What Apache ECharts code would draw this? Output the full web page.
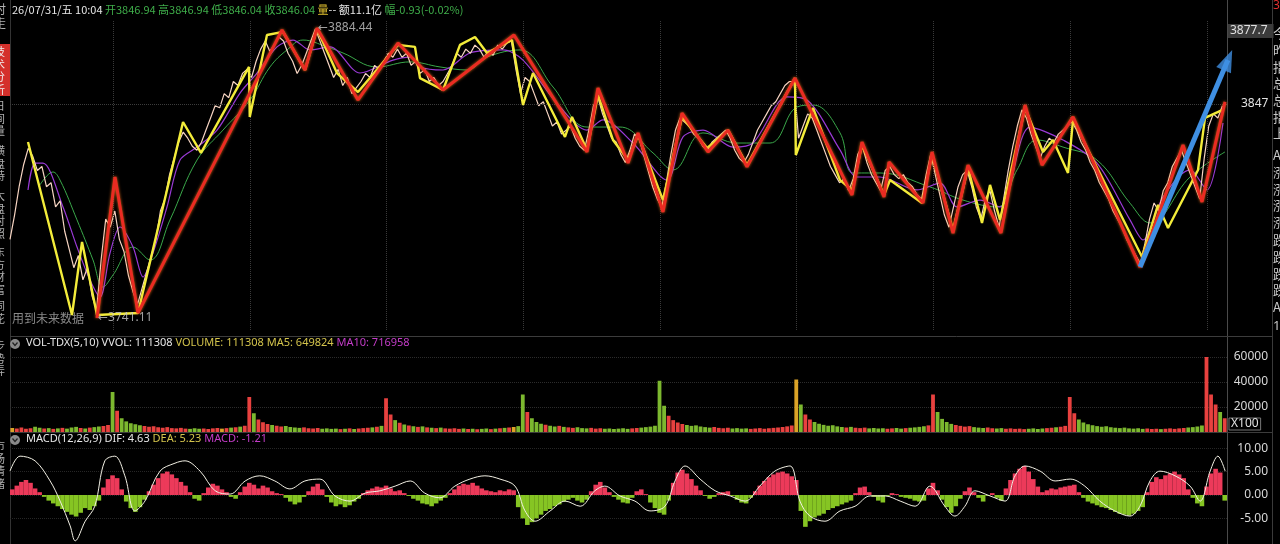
<!DOCTYPE html>
<html><head><meta charset="utf-8">
<script src="https://cdn.jsdelivr.net/npm/echarts@6/dist/echarts.min.js"></script>
<style>html,body{margin:0;padding:0;background:#000;overflow:hidden}#c{width:1280px;height:544px}</style>
</head><body><div id="c"></div>
<script>
// ---------- data (x = bar index, 0..267; one bar ≈ 8 minutes) ----------
const N = 267;
const dayBreaks = [22.6, 52.6, 82.6, 112.6, 142.6, 172.6, 202.6, 232.6, 262.6];

const close = [
3780,3792,3806,3817,3825,3821,3814,3816,3806,3808,
3796,3799,3784,3775,3766,3772,3760,3766,3752,3745,
3770,3790,3786,3794,3780,3774,3762,3754,3748,3756,
3764,3772,3780,3794,3800,3812,3820,3828,3833,3830,
3826,3824,3828,3834,3840,3846,3845,3852,3850,3858,
3856,3862,3864,3860,3868,3874,3878,3873,3876,3880,
3878,3872,3868,3862,3866,3872,3878,3884,3878,3872,
3866,3860,3864,3856,3860,3852,3855,3858,3862,3860,
3866,3864,3868,3872,3870,3874,3870,3872,3866,3868,
3862,3864,3858,3860,3856,3858,3862,3866,3872,3870,
3874,3872,3876,3874,3870,3873,3871,3876,3874,3877,
3878,3864,3852,3860,3858,3852,3846,3848,3842,3836,
3838,3832,3834,3836,3830,3826,3824,3834,3846,3850,
3842,3836,3830,3828,3822,3818,3824,3832,3830,3822,
3814,3806,3800,3796,3808,3822,3834,3840,3838,3836,
3832,3830,3826,3824,3828,3830,3832,3834,3830,3824,
3820,3818,3822,3828,3834,3838,3842,3846,3848,3852,
3856,3858,3858,3830,3836,3842,3840,3834,3828,3822,
3816,3812,3808,3810,3804,3810,3822,3826,3818,3812,
3808,3804,3814,3816,3812,3810,3812,3808,3806,3802,
3800,3812,3822,3812,3802,3792,3786,3796,3806,3812,
3814,3806,3796,3790,3800,3804,3794,3786,3800,3814,
3826,3836,3844,3840,3832,3826,3820,3826,3830,3828,
3832,3834,3836,3838,3834,3828,3824,3818,3814,3808,
3804,3800,3794,3790,3786,3780,3776,3772,3768,3778,
3790,3798,3794,3804,3808,3816,3820,3824,3818,3812,
3806,3800,3820,3836,3842,3840,3846];

const redZigzag = [
[19.09,3741.1],[23.04,3810.8],[28.08,3743.6],[59.68,3883.5],[64.72,3863.7],[67.35,3884.4],
[76.35,3848.9],[85.12,3877.0],[95.0,3853.8],[110.57,3881.0],[126.59,3823.2],[129.0,3854.8],
[135.59,3817.7],[137.78,3832.6],[143.26,3793.5],[147.43,3842.4],[153.14,3823.2],[157.53,3834.0],
[161.69,3815.8],[172.22,3859.7],[184.73,3801.9],[186.92,3828.1],[191.75,3800.9],[192.85,3818.2],
[200.31,3798.0],[202.28,3823.2],[206.89,3783.1],[210.18,3816.7],[217.42,3783.1],[222.69,3846.4],
[226.42,3816.7],[233.22,3840.5],[247.92,3766.3],[257.35,3826.6],[261.52,3798.5],[266.56,3847.9]];

const yellowZigzag = [
[3.95,3828.1],[13.6,3742.6],[15.8,3778.7],[19.09,3742.6],[28.08,3743.6],[37.96,3838.0],
[41.9,3822.7],[52.44,3865.2],[52.6,3840.5],[56.38,3881.0],[59.89,3882.5],[64.72,3863.7],
[67.35,3884.0],[71.74,3862.2],[76.35,3852.8],[85.12,3876.1],[88.85,3875.1],[89.95,3859.7],
[95.0,3853.8],[98.73,3876.1],[102.02,3880.0],[104.65,3872.1],[110.14,3878.5],[112.55,3846.4],
[114.74,3862.2],[121.76,3830.6],[123.3,3840.5],[126.59,3824.2],[129.0,3851.3],[132.29,3829.1],
[135.59,3819.2],[137.78,3831.6],[143.26,3799.4],[147.43,3840.5],[152.92,3825.1],[157.53,3834.0],
[161.69,3816.7],[172.22,3859.7],[172.4,3821.7],[176.18,3844.9],[182.1,3809.3],[184.73,3804.4],
[186.92,3826.6],[191.75,3801.9],[193.07,3809.3],[200.09,3798.0],[202.28,3821.7],[206.89,3784.6],
[210.18,3815.3],[213.25,3788.1],[215.01,3806.9],[217.2,3789.6],[222.69,3844.9],[226.63,3823.2],
[228.83,3829.1],[232.12,3812.8],[233.22,3839.0],[248.36,3771.3],[251.86,3797.0],[254.06,3785.6],
[260.64,3814.3],[262.18,3840.0],[265.91,3843.9]];

const maPurple = [
[3.95,3804.4],[5.48,3817.7],[7.24,3817.7],[11.63,3796.0],[14.7,3776.2],[17.55,3759.9],[19.75,3751.5],
[21.94,3773.2],[24.13,3786.1],[26.99,3776.2],[29.18,3761.4],[31.37,3773.2],[34.44,3796.0],[37.3,3819.2],
[41.03,3825.6],[45.42,3834.0],[50.46,3852.3],[54.19,3862.2],[58.58,3875.1],[62.09,3878.5],[65.82,3873.6],
[70.21,3875.1],[76.79,3862.2],[84.03,3868.6],[87.76,3870.1],[89.95,3865.2],[95.0,3863.7],[100.92,3872.1],
[108.16,3873.6],[112.55,3868.6],[120.67,3845.4],[126.59,3834.0],[130.1,3839.0],[136.68,3827.6],
[144.14,3809.3],[147.65,3830.6],[152.04,3834.0],[158.62,3825.6],[163.01,3827.6],[170.47,3850.4],
[174.86,3848.9],[182.1,3824.2],[185.83,3810.8],[190.87,3810.8],[198.99,3804.4],[204.04,3807.8],
[207.77,3796.0],[212.81,3799.4],[217.2,3796.0],[223.78,3835.5],[231.02,3829.1],[238.48,3817.7],
[245.72,3789.6],[248.57,3779.7],[252.96,3800.9],[258.88,3814.3],[262.61,3804.4],[266.12,3837.5]];

const maGreen = [
[6.58,3806.9],[9.43,3813.3],[10.97,3809.3],[14.7,3789.6],[18.21,3769.8],[20.4,3756.4],[22.6,3762.4],
[26.99,3776.2],[30.72,3769.8],[35.1,3789.6],[41.03,3819.2],[46.73,3834.0],[52.66,3848.9],[57.04,3865.2],
[60.77,3873.6],[64.28,3878.5],[69.55,3875.1],[73.06,3872.1],[80.52,3865.2],[87.76,3867.7],[94.34,3865.2],
[100.26,3863.7],[104.65,3870.1],[111.89,3873.6],[119.13,3855.3],[126.59,3835.5],[133.83,3835.5],
[141.07,3822.7],[145.46,3814.3],[152.04,3832.6],[159.5,3827.6],[166.74,3827.6],[172.66,3845.4],
[176.17,3846.4],[182.1,3832.6],[184.95,3812.8],[190.87,3812.8],[201.84,3805.9],[209.08,3799.4],
[216.54,3796.0],[220.93,3814.3],[225.32,3829.1],[231.02,3825.6],[238.48,3819.2],[245.72,3797.9],
[250.11,3788.1],[258.88,3810.8],[266.56,3823.2]];

const trendArrow = [[247.92,3766.3],[267.2,3868.6]];
const extremes = [[67.35,3884.44,'3884.44'],[19.09,3741.11,'3741.11']];

const volume = [
3200,2800,3600,2600,3000,4200,3400,2800,3100,2500,2900,3300,2700,3600,4100,3200,2800,3500,3900,4400,4800,5600,
32000,17000,11000,8500,7000,6200,5400,4800,4200,4600,3800,3400,3900,3100,2900,3300,2700,2500,3000,2600,2800,2400,2900,3200,2700,3100,3500,3800,4300,5000,
28000,15000,10000,7800,6400,5600,5000,4400,4800,4000,3600,3300,3700,3000,2800,3200,2600,2900,2500,2700,2300,2600,2900,2400,2800,3100,3400,3700,4200,4900,
27000,14000,9500,7400,6000,5200,4600,4100,4500,3700,3400,3100,3500,2900,2700,3000,2500,2800,2400,2600,2200,2500,2800,2300,2700,3000,3300,3600,4000,4700,
30000,16000,11000,8000,6600,5800,5000,4400,4900,4100,3700,3300,3800,3100,2900,3300,2700,3000,2600,2800,2400,2700,3000,2500,2900,3200,3500,3900,4300,5000,
41000,21000,13000,9500,7600,6400,5600,4900,5300,4400,3900,3500,4000,3300,3000,3400,2800,3100,2700,2900,2500,2800,3100,2600,3000,3300,3600,4000,4500,5200,
42000,22000,14000,10000,8000,6600,5700,5000,5400,4500,4000,3600,4100,3400,3100,3500,2900,3200,2800,3000,2600,2900,3200,2700,3100,3400,3700,4100,4600,5300,
30000,16000,10500,8000,6500,5600,4900,4300,4700,3900,3500,3200,3600,3000,2800,3100,2600,2900,2500,2700,2300,2600,2900,2400,2800,3100,3400,3800,4200,4900,
28000,15000,10000,7600,6200,5400,4700,4200,4600,3800,3400,3100,3500,2900,2700,3000,2500,2800,2400,2600,2300,2600,2900,2500,2900,3200,3600,3900,4400,5200,
60000,30000,22000,16000,11000];
const volTicks = [20000, 40000, 60000];

const macdHist = [
1.2,2.0,2.8,3.2,2.6,1.4,0.6,-0.4,-1.2,-1.8,
-2.4,-3.0,-3.6,-4.2,-4.6,-3.8,-2.8,-3.2,-2.4,-1.2,
1.6,3.4,4.2,3.6,1.2,-1.4,-2.8,-3.6,-2.6,-1.0,
0.8,2.2,3.6,4.6,5.0,4.4,3.6,2.8,2.0,0.6,
-0.8,-1.2,0.4,1.6,2.4,2.0,1.2,0.6,-0.4,-0.8,
0.6,1.8,2.6,2.2,1.4,2.0,1.6,0.8,0.4,0.2,
-0.6,-1.4,-2.0,-1.6,-0.4,0.8,1.8,2.4,1.2,-0.4,
-1.6,-2.4,-2.0,-2.6,-2.2,-1.4,-0.8,0.4,1.0,1.4,
1.8,1.6,2.0,1.4,0.8,1.0,0.4,-0.2,-0.8,-1.2,
-1.8,-2.0,-2.4,-1.8,-1.2,-0.6,0.4,1.2,2.0,2.4,
2.2,2.6,2.0,1.4,1.0,0.8,0.6,1.0,0.8,1.2,
1.0,-2.6,-5.0,-6.4,-5.8,-5.0,-4.2,-3.4,-3.0,-2.4,
-2.0,-1.4,-1.0,-0.6,-1.2,-1.6,-1.0,0.8,2.2,2.8,
1.6,0.6,-0.4,-1.0,-1.6,-1.8,-0.6,0.8,1.2,0.2,
-1.6,-2.8,-3.8,-4.2,-1.2,2.6,4.8,5.4,4.6,3.4,
2.0,1.0,-0.2,-0.8,-0.4,0.4,0.6,0.8,-0.2,-1.0,
-1.6,-1.8,-0.6,0.8,2.0,3.0,3.8,4.4,4.8,5.0,
4.6,4.0,3.2,-3.4,-6.8,-5.6,-4.8,-4.4,-4.0,-3.2,
-2.8,-2.4,-2.0,-1.6,-1.2,0.4,1.6,1.8,0.6,-0.4,
-1.2,-1.6,-0.2,0.4,0.2,-0.4,-0.6,-0.8,-1.2,-1.4,
-1.2,1.4,2.6,1.0,-1.0,-2.6,-3.8,-2.4,-0.8,0.8,
1.6,0.6,-0.6,-1.4,-0.2,0.4,-0.6,-1.2,1.4,3.2,
4.6,5.6,6.2,5.0,3.4,1.8,0.6,1.0,1.4,1.2,
1.6,1.8,2.0,2.2,0.6,-0.6,-1.4,-1.8,-2.2,-2.6,
-2.8,-3.2,-3.6,-4.0,-4.2,-4.4,-4.0,-3.4,-2.6,0.6,
2.8,3.8,3.4,4.2,4.6,5.0,4.4,3.6,1.2,-0.6,
-1.8,-2.4,1.8,4.6,5.6,4.8,-1.2];

const dif = [
[0,5.1],[2.2,8.3],[5.5,7.3],[8.8,3.0],[11.0,-1.3],[13.2,-6.6],[14.3,-9.8],[16.5,-5.6],[18.6,-2.4],
[20.8,7.3],[23.0,8.3],[25.2,4.1],[27.4,-3.4],[29.6,-1.3],[32.9,5.1],[36.2,6.8],[38.4,7.3],[41.7,5.1],
[45.0,0.9],[48.3,0.2],[51.6,3.0],[54.8,4.1],[58.1,3.0],[61.4,1.3],[64.7,3.0],[68.0,3.4],[71.3,-0.2],
[74.6,-1.3],[77.9,0.4],[81.2,0.9],[84.5,1.9],[87.8,3.0],[91.0,0.4],[94.3,-0.6],[97.6,1.9],[100.9,3.4],
[104.2,4.1],[107.5,3.4],[110.8,1.9],[113.0,-3.4],[115.2,-5.6],[118.5,-3.4],[121.8,-1.3],[125.1,-2.4],
[128.3,0.9],[130.5,1.9],[133.8,-0.2],[137.1,-1.3],[140.4,-3.4],[143.7,-2.4],[145.9,3.0],[148.1,6.2],
[151.4,3.4],[154.7,0.9],[158.0,-0.2],[161.3,-1.3],[164.5,1.9],[167.8,5.1],[171.1,6.2],[173.3,-1.3],
[175.5,-4.5],[178.8,-5.6],[182.1,-3.4],[185.4,-2.4],[188.7,-0.2],[192.0,-0.2],[195.3,-1.3],[198.6,-2.4],
[201.8,1.9],[205.1,-2.4],[207.3,-4.5],[209.5,-2.4],[211.7,0.9],[215.0,-0.2],[218.3,-1.3],[220.5,4.1],
[222.7,6.2],[226.0,5.1],[229.3,3.0],[232.6,3.4],[235.8,1.9],[239.1,-1.3],[242.4,-3.4],[245.7,-4.5],
[247.9,-2.4],[250.1,3.0],[252.3,5.1],[255.6,4.1],[258.9,1.9],[261.1,-1.3],[263.3,5.1],[265.0,8.3],[266.6,5.1]];
const macdTicks = [-5, 0, 5, 10];

// ---------- chart ----------
const chart = echarts.init(document.getElementById('c'), null, {renderer: 'canvas'});
const CJK = '"Noto Sans CJK SC", "Noto Sans", sans-serif';
const LAT = '"Noto Sans", "DejaVu Sans", sans-serif';
const G = {left: 10, right: 53};

function volColor(i) {
  const d = i > 0 ? close[i] - close[i - 1] : 0;
  return d > 1.5 ? '#e8413f' : (d < -1.5 ? '#7cb82f' : '#dba327');
}

const xAx = gi => ({type: 'value', gridIndex: gi, min: 0, max: N, show: false});

const option = {
  backgroundColor: '#000',
  animation: false,
  grid: [
    {left: G.left, right: G.right, top: 20, height: 310},
    {left: G.left, right: G.right, top: 345, height: 87},
    {left: G.left, right: G.right, top: 436.5, height: 105.3}
  ],
  xAxis: [xAx(0), xAx(1), xAx(2)],
  yAxis: [
    {type: 'value', gridIndex: 0, min: 3735.2, max: 3888.4, position: 'right', show: false},
    {type: 'value', gridIndex: 1, min: 0, max: 69600, interval: 20000, position: 'right',
      axisLine: {show: false}, axisTick: {show: false},
      axisLabel: {color: '#d8d8d8', fontSize: 12, fontFamily: LAT, align: 'right', margin: 41,
        showMinLabel: false, showMaxLabel: false,
        formatter: v => volTicks.indexOf(v) >= 0 ? String(v) : ''},
      splitLine: {show: true, showMinLine: false, showMaxLine: false, lineStyle: {color: '#2c2c2c', type: 'dotted'}}},
    {type: 'value', gridIndex: 2, min: -10, max: 12.5, interval: 5, position: 'right',
      axisLine: {show: false}, axisTick: {show: false},
      axisLabel: {color: '#d8d8d8', fontSize: 12, fontFamily: LAT, align: 'right', margin: 41,
        showMinLabel: false, showMaxLabel: false,
        formatter: v => macdTicks.indexOf(v) >= 0 ? v.toFixed(2) : ''},
      splitLine: {show: true, showMinLine: false, showMaxLine: false, lineStyle: {color: '#262626', type: 'dotted'}}}
  ],
  series: [
    {type: 'line', xAxisIndex: 0, yAxisIndex: 0, data: maGreen, smooth: 0.4, showSymbol: false,
      lineStyle: {color: '#3aa84a', width: 1}, z: 2},
    {type: 'line', xAxisIndex: 0, yAxisIndex: 0, data: maPurple, smooth: 0.3, showSymbol: false,
      lineStyle: {color: '#9a3ad6', width: 1.2}, z: 3},
    {type: 'line', xAxisIndex: 0, yAxisIndex: 0, data: close.map((v, i) => [i, v]), showSymbol: false,
      lineStyle: {color: '#f6d4c2', width: 1.2}, z: 4,
      markLine: {silent: true, symbol: 'none', animation: false,
        data: dayBreaks.map(v => ({xAxis: v, lineStyle: {color: '#3a3a3a', type: 'dotted', width: 1}, label: {show: false}}))
          .concat([{yAxis: 3847, lineStyle: {color: '#3c3c3c', type: 'dotted', width: 1},
            label: {show: true, position: 'end', distance: 14, formatter: '3847', color: '#e0e0e0', fontSize: 12, fontFamily: LAT}}])}},
    {type: 'line', xAxisIndex: 0, yAxisIndex: 0, data: yellowZigzag, showSymbol: false,
      lineStyle: {color: '#f3ec3a', width: 2.4}, z: 5},
    {type: 'line', xAxisIndex: 0, yAxisIndex: 0, data: redZigzag, showSymbol: false,
      lineStyle: {color: '#ea2b22', width: 3, shadowColor: 'rgba(255,120,30,0.85)', shadowBlur: 3}, z: 6},
    {type: 'line', xAxisIndex: 0, yAxisIndex: 0, data: trendArrow, showSymbol: false, clip: false,
      lineStyle: {color: '#3f8fe2', width: 5}, z: 8},
    {type: 'scatter', xAxisIndex: 0, yAxisIndex: 0, clip: false, z: 9,
      data: [{value: trendArrow[1], symbol: 'triangle', symbolSize: [16, 22], symbolRotate: -23,
        itemStyle: {color: '#3f8fe2'}}]},
    {type: 'scatter', xAxisIndex: 0, yAxisIndex: 0, symbolSize: 0, z: 9,
      data: extremes.map(e => ({value: [e[0], e[1]], name: e[2]})),
      label: {show: true, position: 'right', distance: 1, formatter: p => '←' + p.name,
        color: '#c8c8c8', fontSize: 12, fontFamily: LAT}},
    {type: 'bar', xAxisIndex: 1, yAxisIndex: 1, barWidth: 3.8,
      data: volume.map((v, i) => ({value: [i + 0.5, v], itemStyle: {color: volColor(i)}}))},
    {type: 'bar', xAxisIndex: 2, yAxisIndex: 2, barWidth: 4.6,
      data: macdHist.map((v, i) => ({value: [i + 0.5, v], itemStyle: {color: v >= 0 ? '#ec3a5a' : '#86c523'}}))},
    {type: 'line', xAxisIndex: 2, yAxisIndex: 2, data: dif, smooth: 0.35, showSymbol: false,
      lineStyle: {color: '#f2f0e4', width: 1}, z: 5}
  ],
  graphic: [
    // panel frame lines
    {type: 'line', shape: {x1: 1227.5, y1: 0, x2: 1227.5, y2: 544}, style: {stroke: '#4a4a4a', lineWidth: 1}, silent: true},
    {type: 'line', shape: {x1: 1272.5, y1: 0, x2: 1272.5, y2: 544}, style: {stroke: '#3a3a3a', lineWidth: 1}, silent: true},
    {type: 'line', shape: {x1: 10.5, y1: 0, x2: 10.5, y2: 544}, style: {stroke: '#333', lineWidth: 1}, silent: true},
    {type: 'line', shape: {x1: 10, y1: 336.5, x2: 1272, y2: 336.5}, style: {stroke: '#3c3c3c', lineWidth: 1}, silent: true},
    {type: 'line', shape: {x1: 10, y1: 432.5, x2: 1272, y2: 432.5}, style: {stroke: '#3c3c3c', lineWidth: 1}, silent: true},
    // left tab strip
    {type: 'rect', shape: {x: 0, y: 44, width: 10, height: 52}, style: {fill: '#d4302b'}, silent: true},
    {type: 'text', x: -6, y: 2, style: {text: '时\n走', fill: '#b0b0b0', font: '12px ' + CJK, lineHeight: 14}},
    {type: 'text', x: -6, y: 46, style: {text: '技\n术\n分\n析', fill: '#f0f0f0', font: '11px ' + CJK, lineHeight: 12.5}},
    {type: 'text', x: -6, y: 100, style: {text: '日\n间\n量', fill: '#b0b0b0', font: '11px ' + CJK, lineHeight: 12.5}},
    {type: 'text', x: -6, y: 145, style: {text: '横\n盘\n特', fill: '#b0b0b0', font: '11px ' + CJK, lineHeight: 12.5}},
    {type: 'text', x: -6, y: 190, style: {text: '大\n盘\n对\n照', fill: '#b0b0b0', font: '11px ' + CJK, lineHeight: 12.5}},
    {type: 'text', x: -6, y: 246, style: {text: '东\n方\n财\n富', fill: '#b0b0b0', font: '11px ' + CJK, lineHeight: 12.5}},
    {type: 'text', x: -6, y: 300, style: {text: '同\n花\n0', fill: '#b0b0b0', font: '11px ' + CJK, lineHeight: 12.5}},
    {type: 'text', x: -6, y: 340, style: {text: '步\n势\n弄', fill: '#b0b0b0', font: '11px ' + CJK, lineHeight: 12.5}},
    {type: 'text', x: -6, y: 440, style: {text: '市\n场\n情\n绪', fill: '#b0b0b0', font: '11px ' + CJK, lineHeight: 12.5}},
    // right strip
    {type: 'text', x: 1273, y: 0, style: {text: '3', fill: '#e03030', font: '12px ' + LAT}},
    {type: 'text', x: 1273, y: 25, style: {text: '今\n昨\n指\n总\n总\n指\n上', fill: '#c8c8c8', font: '13px ' + CJK, lineHeight: 16.7}},
    {type: 'text', x: 1273, y: 147, style: {text: 'A\n涨\n涨\n涨\n涨', fill: '#c8c8c8', font: '13px ' + CJK, lineHeight: 16.7}},
    {type: 'text', x: 1273, y: 232, style: {text: '跌\n跌\n跌\n跌\nA', fill: '#c8c8c8', font: '13px ' + CJK, lineHeight: 16.7}},
    {type: 'text', x: 1273, y: 320, style: {text: '1', fill: '#c8c8c8', font: '13px ' + LAT}},
    // top info line
    {type: 'text', x: 12, y: 4, style: {
      text: '{w|26/07/31/五 10:04 }{g|开3846.94 高3846.94 低3846.04 收3846.04 }{y|量}{w|-- 额11.1亿 }{g|幅-0.93(-0.02%)}',
      font: '11px ' + CJK,
      rich: {w: {fill: '#e6e6e6', font: '11px ' + CJK}, g: {fill: '#3fae4a', font: '11px ' + CJK}, y: {fill: '#e0c030', font: '11px ' + CJK}}}},
    // price-axis readout box
    {type: 'text', x: 1228, y: 24, style: {text: '3877.7', fill: '#e0e0e0', font: '12px ' + LAT,
      backgroundColor: '#3b3b3b', padding: [1, 6, 1, 2]}},
    // annotation
    {type: 'text', x: 12, y: 312, style: {text: '用到未来数据', fill: '#8a8a8a', font: '12px ' + CJK}},
    // volume header
    {type: 'circle', shape: {cx: 15, cy: 344, r: 5}, style: {fill: '#8a8a8a'}},
    {type: 'polyline', shape: {points: [[12.5, 342.5], [15, 345.5], [17.5, 342.5]]}, style: {stroke: '#222', lineWidth: 1.2, fill: null}},
    {type: 'text', x: 26, y: 337, style: {
      text: '{w|VOL-TDX(5,10) VVOL: 111308 }{y|VOLUME: 111308 MA5: 649824 }{m|MA10: 716958}',
      font: '11px ' + LAT,
      rich: {w: {fill: '#e6e6e6', font: '11px ' + LAT}, y: {fill: '#d4c44c', font: '11px ' + LAT}, m: {fill: '#c43cc8', font: '11px ' + LAT}}}},
    {type: 'text', x: 1229, y: 418, style: {text: 'X100', fill: '#e0e0e0', font: '12px ' + LAT,
      borderColor: '#777', borderWidth: 1, padding: [0, 2, 0, 2]}},
    // macd header
    {type: 'circle', shape: {cx: 15, cy: 440, r: 5}, style: {fill: '#8a8a8a'}},
    {type: 'polyline', shape: {points: [[12.5, 438.5], [15, 441.5], [17.5, 438.5]]}, style: {stroke: '#222', lineWidth: 1.2, fill: null}},
    {type: 'text', x: 26, y: 433, style: {
      text: '{w|MACD(12,26,9) DIF: 4.63 }{y|DEA: 5.23 }{m|MACD: -1.21}',
      font: '11px ' + LAT,
      rich: {w: {fill: '#e6e6e6', font: '11px ' + LAT}, y: {fill: '#d4c44c', font: '11px ' + LAT}, m: {fill: '#c43cc8', font: '11px ' + LAT}}}}
  ]
};
chart.setOption(option);
</script>
</body></html>
